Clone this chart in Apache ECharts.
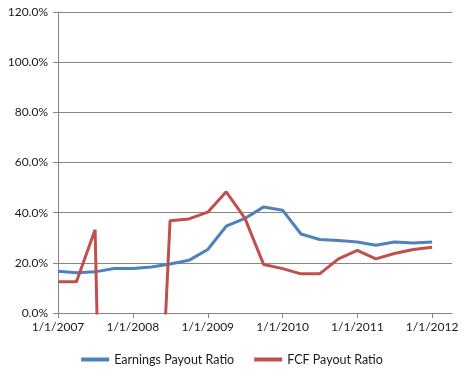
<!DOCTYPE html>
<html>
<head>
<meta charset="utf-8">
<script src="https://cdn.jsdelivr.net/npm/echarts@6/dist/echarts.min.js"></script>
<style>
html,body{margin:0;padding:0;background:#fff;}
#chart{width:464px;height:378px;}
</style>
</head>
<body>
<div id="chart"></div>
<script>
// Quarterly dates
var dates = ['2007-01-01','2007-04-01','2007-07-01','2007-10-01',
             '2008-01-01','2008-04-01','2008-07-01','2008-10-01',
             '2009-01-01','2009-04-01','2009-07-01','2009-10-01',
             '2010-01-01','2010-04-01','2010-07-01','2010-10-01',
             '2011-01-01','2011-04-01','2011-07-01','2011-10-01',
             '2012-01-01'];
// Payout ratios in percent
var earningsPayout = [16.6, 16.0, 16.4, 17.7, 17.7, 18.3, 19.5, 21.0, 25.3, 34.6, 37.7, 42.3,
                      41.0, 31.5, 29.3, 28.9, 28.3, 27.0, 28.3, 27.9, 28.3];
var fcfPayout = [12.5, 12.5, 33.2, -300, -300, -120, 36.8, 37.5, 40.2, 48.3, 37.8, 19.3,
                 17.7, 15.6, 15.6, 21.6, 25.0, 21.6, 23.7, 25.3, 26.2];
var yearTicks = ['2007-01-01','2008-01-01','2009-01-01','2010-01-01','2011-01-01','2012-01-01'];
var seriesNames = ['Earnings Payout Ratio', 'FCF Payout Ratio'];

function toTime(s){ var p = s.split('-'); return new Date(+p[0], +p[1]-1, +p[2]).getTime(); }
var tickTimes = yearTicks.map(toTime);

var chart = echarts.init(document.getElementById('chart'));
var font = 'Lato';
chart.setOption({
  animation: false,
  backgroundColor: '#fff',
  grid: { left: 58, right: 12, top: 12, bottom: 65, containLabel: false },
  legend: {
    bottom: 7, left: 'center',
    itemWidth: 28, itemHeight: 4, itemGap: 20,
    icon: 'rect',
    textStyle: { fontFamily: font, fontSize: 12.5, color: '#1a1a1a' },
    data: seriesNames
  },
  xAxis: {
    type: 'value',
    min: toTime('2007-01-01'),
    max: toTime('2012-04-07'),
    axisLine: { show: true, lineStyle: { color: '#868686', width: 1 } },
    axisTick: { show: true, length: 5, customValues: tickTimes, lineStyle: { color: '#868686' } },
    axisLabel: {
      customValues: tickTimes,
      fontFamily: font, fontSize: 12, color: '#1a1a1a', margin: 8,
      formatter: function (v) { var d = new Date(v); return (d.getMonth()+1) + '/' + d.getDate() + '/' + d.getFullYear(); }
    },
    splitLine: { show: false }
  },
  yAxis: {
    type: 'value', min: 0, max: 120, interval: 20,
    axisLine: { show: true, lineStyle: { color: '#868686', width: 1 } },
    axisTick: { show: true, length: 5, lineStyle: { color: '#868686' } },
    axisLabel: { fontFamily: font, fontSize: 12, color: '#1a1a1a', margin: 10,
      formatter: function (v) { return v.toFixed(1) + '%'; } },
    splitLine: { show: true, lineStyle: { color: '#868686', width: 1 } }
  },
  series: [
    { name: seriesNames[0], type: 'line', symbol: 'none', clip: true,
      lineStyle: { color: '#4F81BD', width: 3 }, itemStyle: { color: '#4F81BD' },
      data: dates.map(function (d, i) { return [toTime(d), earningsPayout[i]]; }) },
    { name: seriesNames[1], type: 'line', symbol: 'none', clip: true,
      lineStyle: { color: '#C0504D', width: 3 }, itemStyle: { color: '#C0504D' },
      data: dates.map(function (d, i) { return [toTime(d), fcfPayout[i]]; }) }
  ]
});
</script>
</body>
</html>
